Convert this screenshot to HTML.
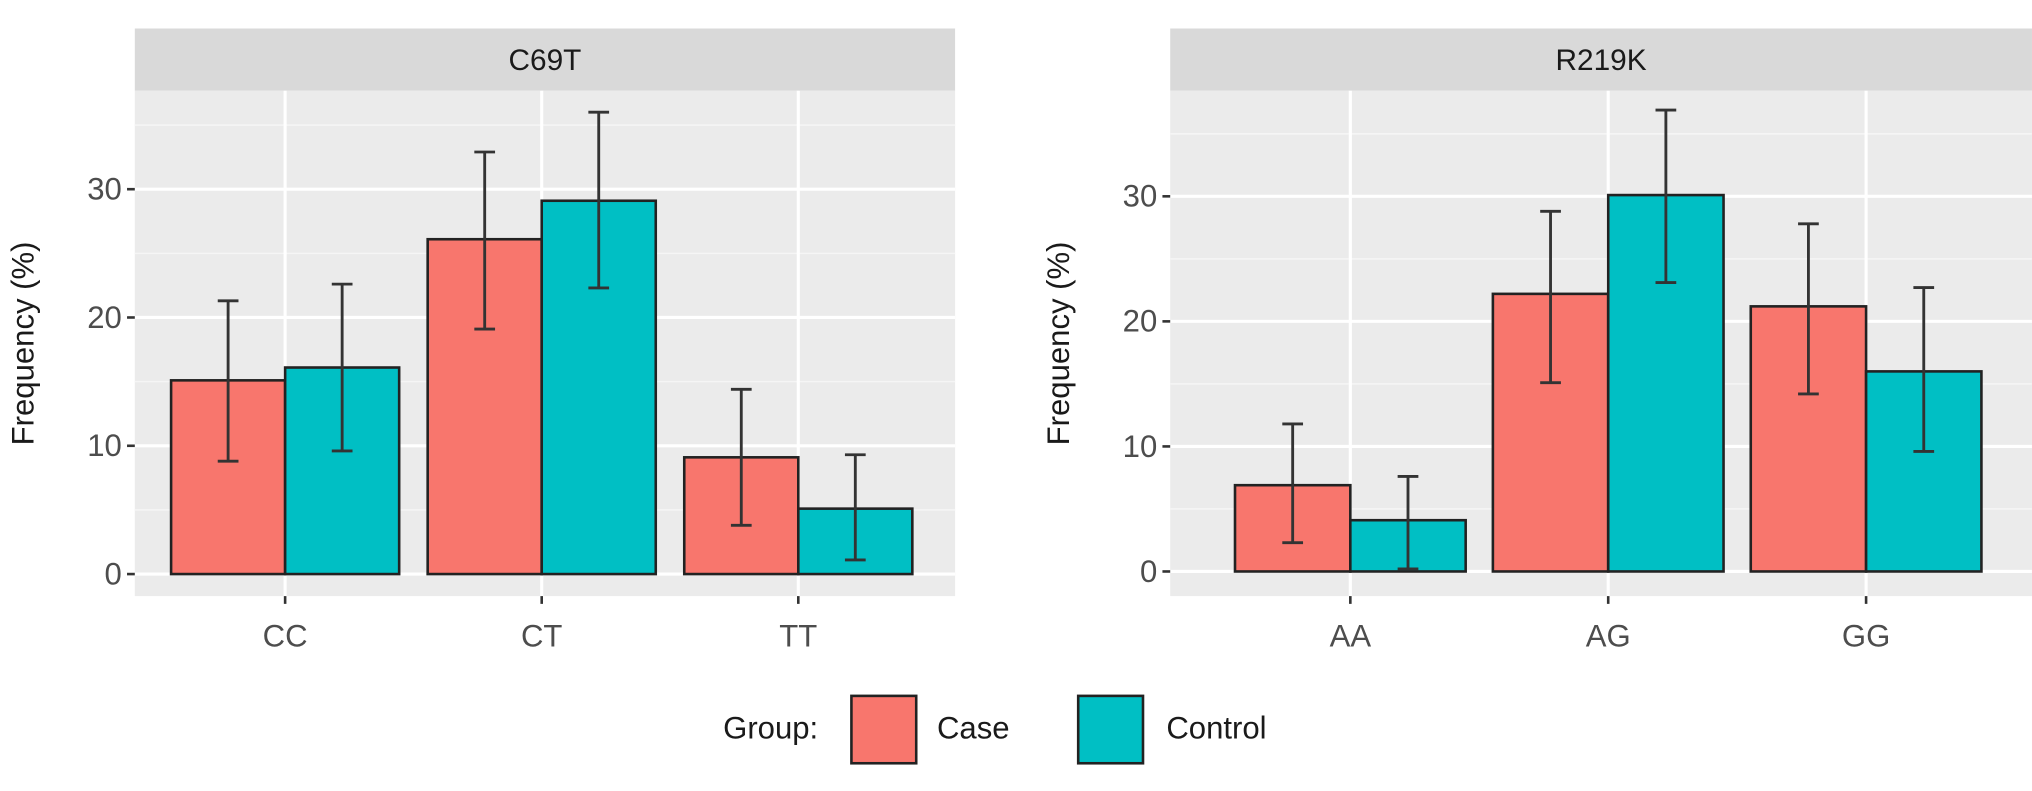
<!DOCTYPE html>
<html><head><meta charset="utf-8"><style>
body{margin:0;background:#fff;}
svg{display:block;}
svg text{font-family:"Liberation Sans",sans-serif;}
</style></head><body>
<svg id="c" width="2032" height="791" viewBox="0 0 1568 610.4" xmlns="http://www.w3.org/2000/svg"></svg>
<script>
const leftCats=["CC","CT","TT"];
const leftCase=[15.1,26.1,9.1];
const leftCaseLo=[8.8,19.1,3.8];
const leftCaseHi=[21.3,32.9,14.4];
const leftCtrl=[16.1,29.1,5.1];
const leftCtrlLo=[9.6,22.3,1.1];
const leftCtrlHi=[22.6,36.0,9.3];
const rightCats=["AA","AG","GG"];
const rightCase=[6.9,22.2,21.2];
const rightCaseLo=[2.3,15.1,14.2];
const rightCaseHi=[11.8,28.8,27.8];
const rightCtrl=[4.1,30.1,16.0];
const rightCtrlLo=[0.2,23.1,9.6];
const rightCtrlHi=[7.6,36.9,22.7];
const yTicks=[0,10,20,30];
const yMinor=[5,15,25,35];
const ns="http://www.w3.org/2000/svg";
const svg=document.getElementById("c");
function mk(t,a,p){const e=document.createElementNS(ns,t);for(const k in a)e.setAttribute(k,a[k]);(p||svg).appendChild(e);return e;}
function panel(o){
  const g=mk("g",{});
  
  
  const y=v=>o.y0-v*o.k;
  const x=i=>o.c0+i*o.step;
  const s=mk("rect",{x:o.x1,y:22,width:o.x2-o.x1,height:48,fill:"#d9d9d9"},g);
  
  const st=mk("text",{x:(o.x1+o.x2)/2,y:54,"text-anchor":"middle","font-size":23,fill:"#1a1a1a"},g);st.textContent=o.title;
  
  const bg=mk("rect",{x:o.x1,y:70,width:o.x2-o.x1,height:390,fill:"#ebebeb"},g);
  
  yMinor.forEach(v=>{if(y(v)>70)mk("line",{x1:o.x1,x2:o.x2,y1:y(v),y2:y(v),stroke:"#f5f5f5","stroke-width":1.2},g);});
  yTicks.forEach(v=>{mk("line",{x1:o.x1,x2:o.x2,y1:y(v),y2:y(v),stroke:"#fff","stroke-width":2.4},g);
    mk("line",{x1:o.x1-6,x2:o.x1,y1:y(v),y2:y(v),stroke:"#333","stroke-width":2},g);
    const t=mk("text",{x:o.x1-10,y:y(v)+8,"text-anchor":"end","font-size":24,fill:"#4d4d4d"},g);t.textContent=v;
    });
  o.cats.forEach((c,i)=>{mk("line",{x1:x(i),x2:x(i),y1:70,y2:460,stroke:"#fff","stroke-width":2.4},g);
    mk("line",{x1:x(i),x2:x(i),y1:460,y2:466,stroke:"#333","stroke-width":2},g);
    const t=mk("text",{x:x(i),y:499,"text-anchor":"middle","font-size":24,fill:"#4d4d4d"},g);t.textContent=c;
    });
  const series=[[o.cs,o.csl,o.csh,"#f8766d",-1,"case"],[o.ct,o.ctl,o.cth,"#00bfc4",0,"control"]];
  series.forEach(([v,lo,hi,col,off,nm])=>{
    v.forEach((val,i)=>{const bx=x(i)+off*o.bw;
      const r=mk("rect",{x:bx,y:y(val),width:o.bw,height:y(0)-y(val),fill:col,stroke:"#222","stroke-width":2},g);
      
      const cx=bx+o.bw/2;
      const e=mk("path",{d:`M${cx-8},${y(hi[i])}H${cx+8}M${cx},${y(hi[i])}V${y(lo[i])}M${cx-8},${y(lo[i])}H${cx+8}`,stroke:"#333","stroke-width":2.2,fill:"none"},g);
      
    });});
  const yt=mk("text",{transform:`translate(${o.x1-78},265) rotate(-90)`,"text-anchor":"middle","font-size":24,fill:"#1a1a1a"},g);
  yt.textContent="Frequency (%)";
}
panel({name:"panel-c69t",title:"C69T",x1:104,x2:737,y0:443,k:9.9,c0:220,step:198,bw:88,cats:leftCats,cs:leftCase,csl:leftCaseLo,csh:leftCaseHi,ct:leftCtrl,ctl:leftCtrlLo,cth:leftCtrlHi});
panel({name:"panel-r219k",title:"R219K",x1:903,x2:1568,y0:441,k:9.65,c0:1042,step:199,bw:89,cats:rightCats,cs:rightCase,csl:rightCaseLo,csh:rightCaseHi,ct:rightCtrl,ctl:rightCtrlLo,cth:rightCtrlHi});
const lg=mk("g",{});
const lt=mk("text",{x:558,y:570,"font-size":24,fill:"#1a1a1a"},lg);lt.textContent="Group:";

[["Case","#f8766d",657,723],["Control","#00bfc4",832,900]].forEach(([n,c,bx,tx])=>{
  const r=mk("rect",{x:bx,y:537,width:50,height:52,fill:c,stroke:"#222","stroke-width":2},lg);
  
  const t=mk("text",{x:tx,y:570,"font-size":24,fill:"#1a1a1a"},lg);t.textContent=n;
  
});
</script>
</body></html>
